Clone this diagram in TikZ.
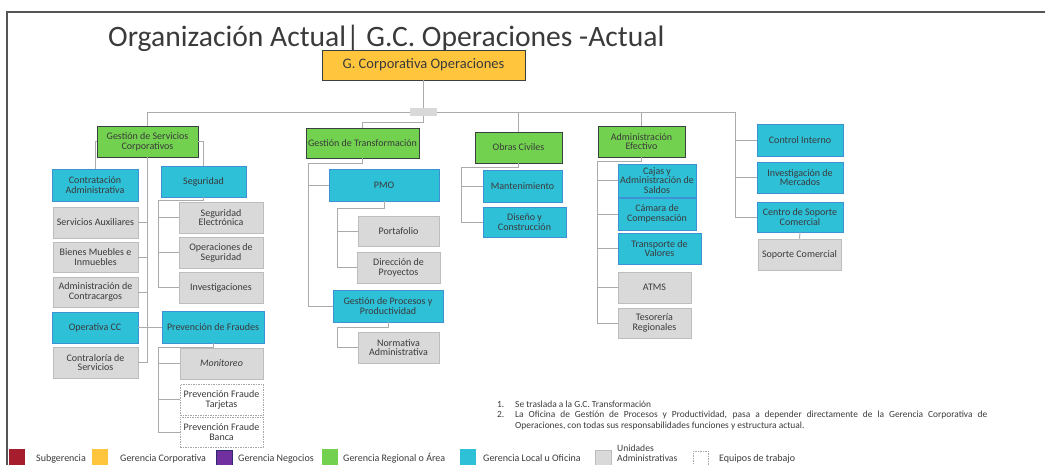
\documentclass[tikz,border=0pt]{standalone}
\usepackage{fontspec}
\setmainfont{Carlito}
\definecolor{cYel}{HTML}{FFC53D}
\definecolor{cGrn}{HTML}{72D24F}
\definecolor{cBlu}{HTML}{2EC0D7}
\definecolor{cBluB}{HTML}{3E92D4}
\definecolor{cGry}{HTML}{D9D9D9}
\definecolor{cGryB}{HTML}{BDBDBD}
\definecolor{cLine}{HTML}{ABABAB}
\definecolor{cTxt}{HTML}{3A3A3A}
\definecolor{cDark}{HTML}{3A3F3F}
\definecolor{cRed}{HTML}{A61E2E}
\definecolor{cPur}{HTML}{7030A0}
\definecolor{cPurB}{HTML}{2E2A6E}
\definecolor{cFrame}{HTML}{555555}
\tikzset{
  basebox/.style={rectangle, inner sep=1pt, align=center, font=\fontsize{10}{9.8}\selectfont, text=cTxt},
  boxY/.style={basebox, fill=cYel, draw=cDark, line width=0.9pt},
  boxG/.style={basebox, fill=cGrn, draw=cDark, line width=0.9pt},
  boxB/.style={basebox, fill=cBlu, draw=cBluB, line width=0.8pt},
  boxA/.style={basebox, fill=cGry, draw=cGryB, line width=0.8pt},
  boxT/.style={basebox, fill=white, draw=gray!70, line width=0.5pt, dash pattern=on 1.5pt off 1pt},
  sz/.style 2 args={minimum width=#1, minimum height=#2},
  conn/.style={draw=cLine, line width=1pt},
  legsq/.style={rectangle, inner sep=0pt, minimum width=16pt, minimum height=16pt, anchor=north west},
  legtxt/.style={anchor=base west, inner sep=0pt, font=\fontsize{10}{11}\selectfont, text=cTxt},
  notetxt/.style={anchor=base west, inner sep=0pt, font=\fontsize{9.4}{10}\selectfont, text=cTxt}
}
\begin{document}
\begin{tikzpicture}[x=1pt,y=-1pt]
\useasboundingbox (0,0) rectangle (1045,464);
% frame
\draw[cFrame, line width=1.3pt] (7,470) -- (7,12) -- (1050,12);
% title
\node[anchor=base west, inner sep=0pt, font=\fontsize{29.6}{32}\selectfont, text=cTxt] (title) at (108,46.5) {Organización Actual| G.C. Operaciones -Actual};

% top
\node[boxY, sz={203pt}{30pt}, font=\fontsize{14.5}{16}\selectfont] (top) at (423.5,65) {G. Corporativa Operaciones};
\node[rectangle, fill=cGry, minimum width=27pt, minimum height=8pt, inner sep=0pt] (hub) at (423.5,112) {};

% level 1
\node[boxG, sz={101pt}{31pt}] (gsc) at (147.5,141.5) {Gestión de Servicios\\Corporativos};
\node[boxG, sz={113pt}{30pt}] (gt) at (362.5,143) {Gestión de Transformación};
\node[boxG, sz={87pt}{31pt}] (oc) at (518.5,147.5) {Obras Civiles};
\node[boxG, sz={87pt}{31pt}] (ae) at (641.5,141.5) {Administración\\Efectivo};
\node[boxB, sz={86pt}{32pt}] (ci) at (800,140) {Control Interno};
\node[boxB, sz={86pt}{31pt}] (im) at (800,177.5) {Investigación de\\Mercados};
\node[boxB, sz={86pt}{30pt}] (cs) at (800,217) {Centro de Soporte\\Comercial};
\node[boxA, sz={83pt}{31pt}] (sc) at (799.5,254.5) {Soporte Comercial};

% left column
\node[boxB, sz={86pt}{32pt}] (ca) at (95,185) {Contratación\\Administrativa};
\node[boxA, sz={85pt}{31pt}] (sa) at (95.5,222.5) {Servicios Auxiliares};
\node[boxA, sz={85pt}{30pt}] (bm) at (95.5,257) {Bienes Muebles e\\Inmuebles};
\node[boxA, sz={85pt}{30pt}] (ac) at (95.5,292) {Administración de\\Contracargos};
\node[boxB, sz={86pt}{31pt}] (occ) at (95,327.5) {Operativa CC};
\node[boxA, sz={85pt}{31pt}] (cds) at (95.5,362.5) {Contraloría de\\Servicios};

\node[boxB, sz={85pt}{31pt}] (seg) at (203.5,181.5) {Seguridad};
\node[boxA, sz={84pt}{31pt}] (se) at (221,217.5) {Seguridad\\Electrónica};
\node[boxA, sz={84pt}{31pt}] (os) at (221,252.5) {Operaciones de\\Seguridad};
\node[boxA, sz={84pt}{31pt}] (inv) at (221,287.5) {Investigaciones};
\node[boxB, sz={102pt}{32pt}] (pf) at (213,327) {Prevención de Fraudes};
\node[boxA, sz={83pt}{31pt}] (mon) at (221.5,363.5) {\itshape Monitoreo};
\node[boxT, sz={83pt}{31pt}] (pft) at (221.5,399.5) {Prevención Fraude\\Tarjetas};
\node[boxT, sz={83pt}{30pt}] (pfb) at (221.5,432) {Prevención Fraude\\Banca};

% transformation
\node[boxB, sz={110pt}{32pt}] (pmo) at (384,185) {PMO};
\node[boxA, sz={81pt}{30pt}] (port) at (398.5,231) {Portafolio};
\node[boxA, sz={83pt}{31pt}] (dp) at (398.5,267.5) {Dirección de\\Proyectos};
\node[boxB, sz={110pt}{32pt}] (gpp) at (388,306) {Gestión de Procesos y\\Productividad};
\node[boxA, sz={81pt}{31pt}] (na) at (398.5,347.5) {Normativa\\Administrativa};

% obras
\node[boxB, sz={79pt}{32pt}] (mant) at (522.5,186) {Mantenimiento};
\node[boxB, sz={83pt}{30pt}] (dyc) at (524.5,222) {Diseño y\\Construcción};

% efectivo
\node[boxB, sz={78pt}{33pt}] (cajas) at (657,180.5) {Cajas y\\Administración de\\Saldos};
\node[boxB, sz={78pt}{32pt}] (cam) at (657,214) {Cámara de\\Compensación};
\node[boxB, sz={83pt}{31pt}] (tv) at (659.5,248.5) {Transporte de\\Valores};
\node[boxA, sz={73pt}{31pt}] (atms) at (654.5,287.5) {ATMS};
\node[boxA, sz={73pt}{30pt}] (tes) at (654.5,323) {Tesorería\\Regionales};

% connectors: top level
\coordinate (rv) at (735,112);
\draw[conn] (top.south) -- (hub.north);
\draw[conn] (gsc.north) |- (hub.west);
\draw[conn] (hub.east) -- (rv) |- (cs.west);
\draw[conn] (rv |- ci.west) -- (ci.west);
\draw[conn] (rv |- im.west) -- (im.west);
\draw[conn] (oc.north) -- (oc.north |- hub.east);
\draw[conn] (ae.north) -- (ae.north |- hub.east);
\draw[conn] (hub.south) -- ++(0,6) -| (gt.north);
\draw[conn] (cs.south) -- (sc.north);

% servicios corporativos
\draw[conn] (gsc.west) -| (ca.north);
\draw[conn] (gsc.east) -| (seg.north);
\draw[conn] (gsc.south) |- (cds.east);
\draw[conn] (sa.east) -- (sa.east -| gsc.south);
\draw[conn] (bm.east) -- (bm.east -| gsc.south);
\draw[conn] (ac.east) -- (ac.east -| gsc.south);
\draw[conn] (occ.east) -- (occ.east -| pf.west);
\draw[conn] (seg.south) -- ++(0,3) -| ([xshift=-20pt]inv.west) -- (inv.west);
\draw[conn] ([xshift=-20pt]se.west) -- (se.west);
\draw[conn] ([xshift=-20pt]os.west) -- (os.west);
\draw[conn] (pf.south) -- ++(0,4) -| ([xshift=-21pt]pfb.west) -- (pfb.west);
\draw[conn] ([xshift=-21pt]mon.west) -- (mon.west);
\draw[conn] ([xshift=-21pt]pft.west) -- (pft.west);

% transformacion
\draw[conn] (gt.south) -- ++(0,5) -| ([xshift=-24pt]gpp.west) -- (gpp.west);
\draw[conn] ([xshift=-20pt]pmo.west) -- (pmo.west);
\draw[conn] (pmo.south) -- ++(0,7) -| ([xshift=-19pt]dp.west) -- (dp.west);
\draw[conn] ([xshift=-20pt]port.west) -- (port.west);
\draw[conn] (gpp.south) -- ++(0,5) -| ([xshift=-20pt]na.west) -- (na.west);

% obras
\draw[conn] (oc.south) -- ++(0,4) -| ([xshift=-21pt]dyc.west) -- (dyc.west);
\draw[conn] ([xshift=-21pt]mant.west) -- (mant.west);

% efectivo
\draw[conn] (ae.south) -- ++(0,4) -| ([xshift=-20pt]tes.west) -- (tes.west);
\draw[conn] ([xshift=-20pt]cajas.west) -- (cajas.west);
\draw[conn] ([xshift=-20pt]cam.west) -- (cam.west);
\draw[conn] ([xshift=-20pt]tv.west) -- (tv.west);
\draw[conn] ([xshift=-20pt]atms.west) -- (atms.west);

% notes
\node[notetxt] (n1) at (497,407) {1.};
\node[notetxt] (n1t) at (515,407) {Se traslada a la G.C. Transformación};
\node[notetxt] (n2) at (497,417.5) {2.};
\node[notetxt] (n2t) at (515,417.5) {\makebox[472pt][s]{La Oficina de Gestión de Procesos y Productividad, pasa a depender directamente de la Gerencia Corporativa de}};
\node[notetxt] (n3t) at (515,428.5) {Operaciones, con todas sus responsabilidades funciones y estructura actual.};

% legend
\node[legsq, fill=cRed] (l1) at (9,449) {};
\node[legtxt] (t1) at (36,461.5) {Subgerencia};
\node[legsq, fill=cYel] (l2) at (92,449) {};
\node[legtxt] (t2) at (120,461.5) {Gerencia Corporativa};
\node[legsq, fill=cPur, draw=cPurB, line width=0.8pt] (l3) at (215.5,449.5) {};
\node[legtxt] (t3) at (238,461.5) {Gerencia Negocios};
\node[legsq, fill=cGrn] (l4) at (322,449) {};
\node[legtxt] (t4) at (343,461.5) {Gerencia Regional o Área};
\node[legsq, fill=cBlu] (l5) at (460,449) {};
\node[legtxt] (t5) at (483,461.5) {Gerencia Local u Oficina};
\node[legsq, fill=cGry, draw=cGryB, line width=0.6pt] (l6) at (595,449.5) {};
\node[legtxt, align=left, font=\fontsize{9.6}{10.2}\selectfont] (t6) at (617,461.3) {Unidades\\Administrativas};
\node[legsq, draw=gray!70, line width=0.5pt, dash pattern=on 1.5pt off 1pt, minimum width=15pt] (l7) at (693,451) {};
\node[legtxt] (t7) at (719,461.5) {Equipos de trabajo};
\end{tikzpicture}
\end{document}
